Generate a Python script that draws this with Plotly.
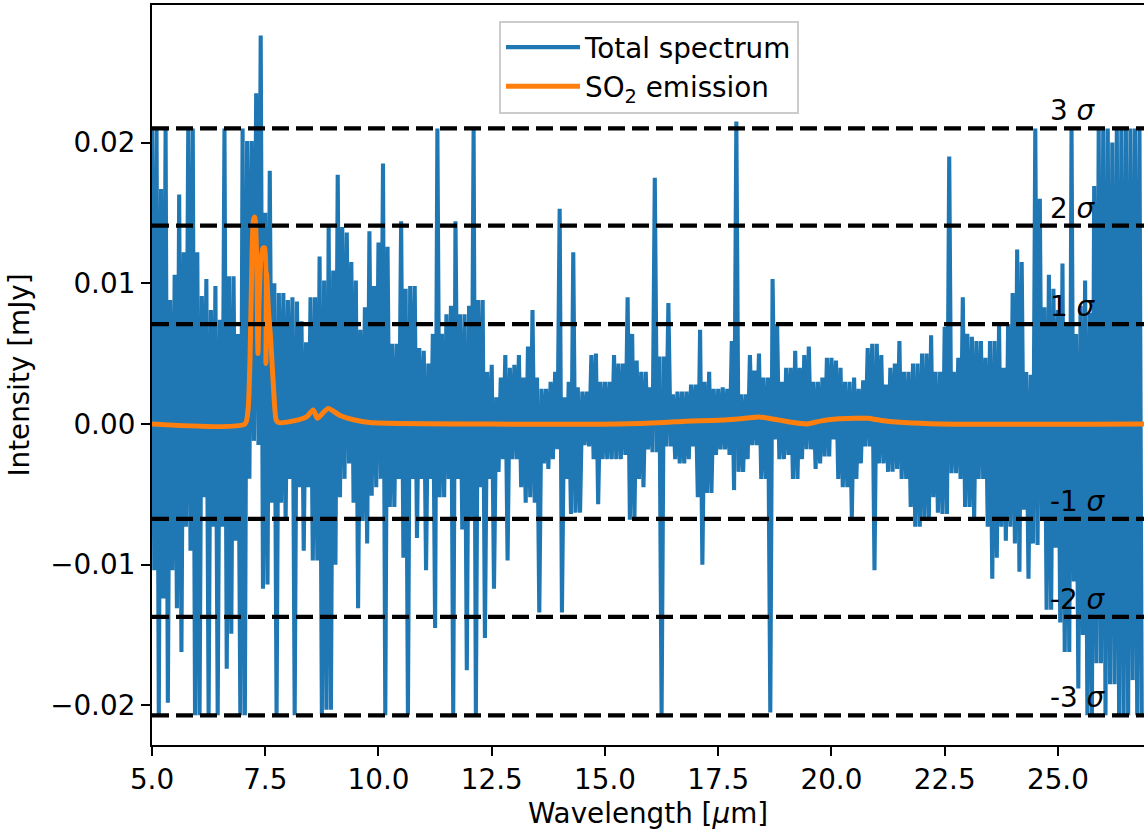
import numpy as np
import plotly.graph_objects as go

# ---------------- data ----------------
# Total spectrum: per-bin extreme values (max / min) in 0.1 um bins starting at 5.0 um
bin_start_um = 5.0
bin_width_um = 0.1

spectrum_max = [
    0.0210, 0.0210, 0.0167, 0.0210, 0.0088, 0.0106, 0.0163, 0.0122, 0.0210, 0.0210,   # 5.0-5.9
    0.0122, 0.0091, 0.0103, 0.0081, 0.0098, 0.0074, 0.0210, 0.0105, 0.0105, 0.0064,   # 6.0-6.9
    0.0210, 0.0201, 0.0201, 0.0235, 0.0276, 0.0150, 0.0180, 0.0100, 0.0093, 0.0093,   # 7.0-7.9
    0.0088, 0.0090, 0.0087, 0.0073, 0.0058, 0.0090, 0.0090, 0.0119, 0.0102, 0.0142,   # 8.0-8.9
    0.0109, 0.0177, 0.0140, 0.0136, 0.0115, 0.0102, 0.0067, 0.0083, 0.0137, 0.0098,   # 9.0-9.9
    0.0129, 0.0185, 0.0126, 0.0057, 0.0057, 0.0144, 0.0096, 0.0098, 0.0098, 0.0054,   # 10.0-10.9
    0.0052, 0.0043, 0.0064, 0.0210, 0.0064, 0.0078, 0.0084, 0.0144, 0.0078, 0.0078,   # 11.0-11.9
    0.0084, 0.0210, 0.0088, 0.0088, 0.0037, 0.0042, 0.0019, 0.0033, 0.0049, 0.0040,   # 12.0-12.9
    0.0042, 0.0049, 0.0033, 0.0055, 0.0081, 0.0033, 0.0025, 0.0025, 0.0030, 0.0037,   # 13.0-13.9
    0.0153, 0.0019, 0.0030, 0.0122, 0.0026, 0.0023, 0.0023, 0.0049, 0.0050, 0.0030,   # 14.0-14.9
    0.0030, 0.0030, 0.0049, 0.0043, 0.0043, 0.0090, 0.0064, 0.0045, 0.0037, 0.0037,   # 15.0-15.9
    0.0026, 0.0175, 0.0048, 0.0048, 0.0086, 0.0021, 0.0023, 0.0023, 0.0023, 0.0028,   # 16.0-16.9
    0.0028, 0.0067, 0.0030, 0.0037, 0.0025, 0.0025, 0.0026, 0.0025, 0.0059, 0.0215,   # 17.0-17.9
    0.0021, 0.0021, 0.0049, 0.0038, 0.0050, 0.0033, 0.0033, 0.0103, 0.0071, 0.0030,   # 18.0-18.9
    0.0040, 0.0040, 0.0052, 0.0040, 0.0049, 0.0055, 0.0030, 0.0030, 0.0033, 0.0047,   # 19.0-19.9
    0.0047, 0.0045, 0.0040, 0.0030, 0.0030, 0.0033, 0.0025, 0.0031, 0.0054, 0.0057,   # 20.0-20.9
    0.0057, 0.0049, 0.0028, 0.0040, 0.0043, 0.0059, 0.0037, 0.0037, 0.0043, 0.0043,   # 21.0-21.9
    0.0050, 0.0050, 0.0063, 0.0037, 0.0037, 0.0069, 0.0190, 0.0037, 0.0047, 0.0090,   # 22.0-22.9
    0.0064, 0.0062, 0.0059, 0.0059, 0.0047, 0.0059, 0.0059, 0.0071, 0.0040, 0.0071,   # 23.0-23.9
    0.0093, 0.0124, 0.0115, 0.0037, 0.0035, 0.0210, 0.0160, 0.0083, 0.0106, 0.0096,   # 24.0-24.9
    0.0081, 0.0114, 0.0070, 0.0210, 0.0064, 0.0084, 0.0102, 0.0079, 0.0169, 0.0210,   # 25.0-25.9
    0.0210, 0.0210, 0.0200, 0.0210, 0.0210, 0.0210, 0.0210, 0.0210, 0.0210,           # 26.0-26.8
]

spectrum_min = [
    -0.0104, -0.0207, -0.0124, -0.0198, -0.0104, -0.0131, -0.0162, -0.0073, -0.0090, -0.0207,   # 5.0
    -0.0207, -0.0052, -0.0207, -0.0073, -0.0207, -0.0073, -0.0174, -0.0149, -0.0083, -0.0207,   # 6.0
    -0.0207, -0.0039, -0.0012, -0.0015, -0.0117, -0.0114, -0.0056, -0.0207, -0.0056, -0.0069,   # 7.0
    -0.0039, -0.0207, -0.0045, -0.0090, -0.0045, -0.0097, -0.0097, -0.0206, -0.0203, -0.0203,   # 8.0
    -0.0100, -0.0052, -0.0039, -0.0028, -0.0056, -0.0131, -0.0069, -0.0085, -0.0051, -0.0045,   # 9.0
    -0.0039, -0.0207, -0.0059, -0.0059, -0.0039, -0.0095, -0.0207, -0.0039, -0.0081, -0.0039,   # 10.0
    -0.0104, -0.0039, -0.0145, -0.0052, -0.0052, -0.0039, -0.0206, -0.0039, -0.0075, -0.0175,   # 11.0
    -0.0066, -0.0206, -0.0045, -0.0152, -0.0039, -0.0117, -0.0034, -0.0025, -0.0097, -0.0025,   # 12.0
    -0.0025, -0.0045, -0.0056, -0.0052, -0.0056, -0.0134, -0.0028, -0.0032, -0.0025, -0.0018,   # 13.0
    -0.0134, -0.0039, -0.0064, -0.0063, -0.0063, -0.0015, -0.0016, -0.0025, -0.0057, -0.0025,   # 14.0
    -0.0025, -0.0025, -0.0025, -0.0025, -0.0022, -0.0068, -0.0068, -0.0039, -0.0045, -0.0018,   # 15.0
    -0.0020, -0.0020, -0.0207, -0.0016, -0.0016, -0.0025, -0.0028, -0.0028, -0.0025, -0.0016,   # 16.0
    -0.0052, -0.0100, -0.0049, -0.0049, -0.0022, -0.0018, -0.0018, -0.0022, -0.0047, -0.0034,   # 17.0
    -0.0034, -0.0025, -0.0015, -0.0015, -0.0039, -0.0039, -0.0205, -0.0011, -0.0025, -0.0025,   # 18.0
    -0.0022, -0.0039, -0.0039, -0.0025, -0.0018, -0.0018, -0.0032, -0.0028, -0.0023, -0.0023,   # 19.0
    -0.0011, -0.0039, -0.0045, -0.0045, -0.0066, -0.0039, -0.0028, -0.0016, -0.0016, -0.0104,   # 20.0
    -0.0028, -0.0028, -0.0034, -0.0034, -0.0032, -0.0039, -0.0039, -0.0059, -0.0073, -0.0073,   # 21.0
    -0.0068, -0.0068, -0.0052, -0.0063, -0.0064, -0.0064, -0.0035, -0.0035, -0.0039, -0.0059,   # 22.0
    -0.0059, -0.0068, -0.0039, -0.0039, -0.0073, -0.0110, -0.0095, -0.0073, -0.0083, -0.0073,   # 23.0
    -0.0085, -0.0105, -0.0061, -0.0110, -0.0085, -0.0086, -0.0068, -0.0132, -0.0132, -0.0088,   # 24.0
    -0.0141, -0.0162, -0.0162, -0.0112, -0.0188, -0.0150, -0.0207, -0.0207, -0.0170, -0.0170,   # 25.0
    -0.0207, -0.0185, -0.0185, -0.0207, -0.0207, -0.0207, -0.0182, -0.0207, -0.0207,            # 26.0
]

# SO2 emission model (smooth curve)
so2_wavelength = [5.0, 7.05, 7.12, 7.165, 7.20, 7.24, 7.27, 7.31, 7.34, 7.36, 7.40, 7.45,
                  7.49, 7.515, 7.53, 7.57, 7.62, 7.68, 7.74, 7.79, 8.1, 8.41, 8.56, 8.65,
                  8.72, 8.89, 9.15, 9.45, 9.8, 15.3, 16.3, 16.8, 17.5, 18.1, 18.4, 18.8,
                  19.15, 19.45, 19.75, 20.1, 20.5, 20.8, 21.1, 21.6, 22.4, 26.9]
so2_flux = [0.0, 0.0, 0.0010, 0.0048, 0.0107, 0.0145, 0.0147, 0.0119, 0.0050, 0.0083,
            0.0114, 0.0125, 0.0125, 0.0043, 0.0107, 0.0081, 0.0060, 0.0027, 0.0003, 0.0001,
            0.0002, 0.0005, 0.0010, 0.0004, 0.0006, 0.0011, 0.0006, 0.0003, 0.0001, 0.0,
            0.0001, 0.0002, 0.00026, 0.0004, 0.0005, 0.0003, 0.0001, 0.0, 0.0002, 0.00035,
            0.0004, 0.0004, 0.00025, 0.0001, 0.0, 0.0]

# noise levels
sigma_levels = [0.0210, 0.0141, 0.0071, -0.00675, -0.0137, -0.0207]
sigma_labels = ["3 <i>σ</i>", "2 <i>σ</i>", "1 <i>σ</i>", "-1 <i>σ</i>", "-2 <i>σ</i>", "-3 <i>σ</i>"]
label_x_um = 24.80

x_ticks = [5.0, 7.5, 10.0, 12.5, 15.0, 17.5, 20.0, 22.5, 25.0]
y_ticks = [-0.02, -0.01, 0.0, 0.01, 0.02]

# ---------------- build figure ----------------
n = len(spectrum_max)
bin_left = bin_start_um + bin_width_um * np.arange(n)
spec_x = np.empty(2 * n)
spec_y = np.empty(2 * n)
spec_x[0::2] = bin_left
spec_x[1::2] = bin_left + bin_width_um / 2
spec_y[0::2] = spectrum_max
spec_y[1::2] = spectrum_min

FONT = "DejaVu Sans, Verdana, sans-serif"
FS = 27.8

fig = go.Figure()
fig.add_trace(go.Scatter(x=spec_x, y=spec_y, mode="lines", name="Total spectrum",
                         line=dict(color="#1f77b4", width=4.1)))
fig.add_trace(go.Scatter(x=so2_wavelength, y=so2_flux, mode="lines",
                         name="SO<sub>2</sub> emission",
                         line=dict(color="#ff7f0e", width=5.0, shape="spline", smoothing=0.6)))

for lvl, lab in zip(sigma_levels, sigma_labels):
    fig.add_shape(type="line", xref="paper", x0=0, x1=1, yref="y", y0=lvl, y1=lvl,
                  line=dict(color="black", width=4.2, dash="17px,7px"), layer="above")
    fig.add_annotation(x=label_x_um, y=lvl, xref="x", yref="y", text=lab, showarrow=False,
                       xanchor="left", yanchor="bottom", borderpad=0,
                       font=dict(family=FONT, size=FS, color="black"))

fig.update_layout(
    width=1144, height=835,
    margin=dict(l=152, r=0, t=5, b=90),
    paper_bgcolor="white", plot_bgcolor="white",
    font=dict(family=FONT, size=FS, color="black"),
    showlegend=True,
    legend=dict(x=0.501, y=0.979, xanchor="center", yanchor="top",
                bgcolor="rgba(255,255,255,0.8)", bordercolor="#cccccc", borderwidth=2,
                font=dict(family=FONT, size=FS, color="black"),
                itemwidth=74, tracegroupgap=0),
)
fig.update_xaxes(range=[5.0, 26.9], tickvals=x_ticks, tickformat=".1f",
                 ticks="outside", ticklen=9, tickwidth=2, tickcolor="black",
                 showline=True, linewidth=2.2, linecolor="black", mirror=True,
                 showgrid=False, zeroline=False, automargin=False,
                 title=dict(text="Wavelength [<i>μ</i>m]", standoff=8,
                            font=dict(family=FONT, size=FS)))
fig.update_yaxes(range=[-0.02281, 0.02977], tickvals=y_ticks, tickformat=".2f",
                 ticks="outside", ticklen=9, tickwidth=2, tickcolor="black",
                 showline=True, linewidth=2.2, linecolor="black",
                 showgrid=False, zeroline=False, automargin=False,
                 title=dict(text="Intensity [mJy]", standoff=12,
                            font=dict(family=FONT, size=FS)))

fig.write_html("out.html")
